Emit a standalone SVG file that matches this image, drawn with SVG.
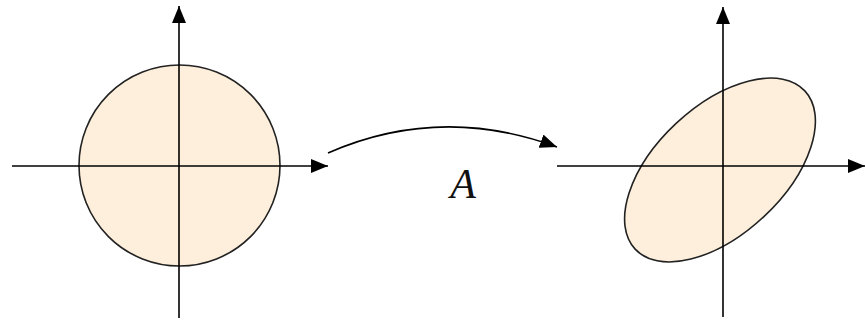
<svg xmlns="http://www.w3.org/2000/svg" width="865" height="324" viewBox="0 0 865 324">
<style>
.axis{stroke:#000;stroke-width:1.6;fill:none}
.shape{fill:#FDEFDB;stroke:#222;stroke-width:1.6}
.lbl{font-family:"Liberation Serif",serif;font-style:italic;font-size:42px;fill:#111}
</style>
<defs>
<marker id="ah" markerUnits="userSpaceOnUse" markerWidth="18" markerHeight="14" refX="17" refY="7" orient="auto">
<path d="M0,0 L17,7 L0,14 z" fill="#000"/>
</marker>
</defs>
<g id="left-circle">
<circle class="shape" cx="179.5" cy="165.5" r="100.5"/>
</g>
<g id="right-ellipse">
<ellipse class="shape" cx="720" cy="170" rx="116" ry="64" transform="rotate(-43 720 170)"/>
</g>
<g id="connectors">
<line class="axis" x1="12" y1="166" x2="328" y2="166" marker-end="url(#ah)"/>
<line class="axis" x1="179" y1="318" x2="179" y2="6" marker-end="url(#ah)"/>
<line class="axis" x1="557" y1="166" x2="865" y2="166" marker-end="url(#ah)"/>
<line class="axis" x1="723" y1="317" x2="723" y2="7" marker-end="url(#ah)"/>
<path class="axis" d="M328,153 Q440,104 557,147" marker-end="url(#ah)"/>
</g>
<g id="label">
<text class="lbl" x="463" y="198" text-anchor="middle">A</text>
</g>
</svg>
